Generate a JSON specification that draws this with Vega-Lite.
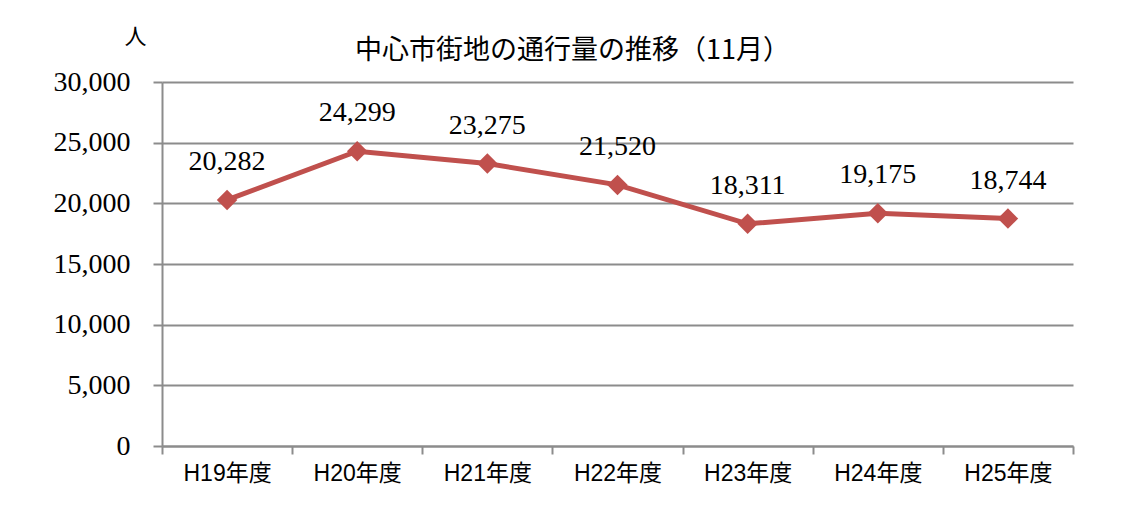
{
  "$schema": "https://vega.github.io/schema/vega-lite/v6.json",
  "autosize": {"type": "none"},
  "padding": {"left": 162, "top": 82, "right": 48, "bottom": 62},
  "width": 911,
  "height": 364,
  "background": "white",
  "title": {
    "text": "中心市街地の通行量の推移（11月）",
    "font": "Noto Sans CJK JP",
    "fontSize": 27,
    "fontWeight": "normal",
    "color": "black",
    "anchor": "middle",
    "frame": "group",
    "baseline": "middle",
    "dx": -45,
    "offset": 0,
    "dy": 53
  },
  "config": {"view": {"stroke": null}},
  "data": {
    "values": [
      {"year": "H19年度", "value": 20282},
      {"year": "H20年度", "value": 24299},
      {"year": "H21年度", "value": 23275},
      {"year": "H22年度", "value": 21520},
      {"year": "H23年度", "value": 18311},
      {"year": "H24年度", "value": 19175},
      {"year": "H25年度", "value": 18744}
    ]
  },
  "encoding": {
    "x": {
      "field": "year",
      "type": "nominal",
      "sort": null,
      "scale": {"paddingInner": 0, "paddingOuter": 0},
      "axis": {
        "title": null,
        "labelAngle": 0,
        "labelFont": "Liberation Sans, Noto Sans CJK JP",
        "labelFontSize": 23,
        "labelColor": "black",
        "labelPadding": 8,
        "tickBand": "extent",
        "tickSize": 8,
        "tickWidth": 2,
        "tickColor": "#8c8c8c",
        "domainColor": "#8c8c8c",
        "domainWidth": 2,
        "grid": false
      }
    },
    "y": {
      "field": "value",
      "type": "quantitative",
      "scale": {"domain": [0, 30000], "nice": false},
      "axis": {
        "title": "人",
        "titleAngle": 0,
        "titleX": -27,
        "titleY": -46,
        "titleAlign": "center",
        "titleBaseline": "middle",
        "titleFont": "Noto Sans CJK JP",
        "titleFontSize": 22,
        "titleFontWeight": "normal",
        "titleColor": "black",
        "values": [0, 5000, 10000, 15000, 20000, 25000, 30000],
        "format": ",d",
        "labelFont": "Liberation Serif",
        "labelFontSize": 28,
        "labelColor": "black",
        "labelPadding": 23,
        "tickSize": 9,
        "tickWidth": 2,
        "tickColor": "#8c8c8c",
        "domainColor": "#8c8c8c",
        "domainWidth": 2,
        "grid": true,
        "gridColor": "#8c8c8c",
        "gridWidth": 2
      }
    }
  },
  "layer": [
    {
      "mark": {
        "type": "line",
        "color": "#C0504D",
        "strokeWidth": 5,
        "point": {"shape": "diamond", "size": 420, "filled": true, "color": "#C0504D", "opacity": 1}
      }
    },
    {
      "mark": {
        "type": "text",
        "dy": -38,
        "font": "Liberation Serif",
        "fontSize": 28,
        "color": "black"
      },
      "encoding": {"text": {"field": "value", "type": "quantitative", "format": ","}}
    }
  ]
}
